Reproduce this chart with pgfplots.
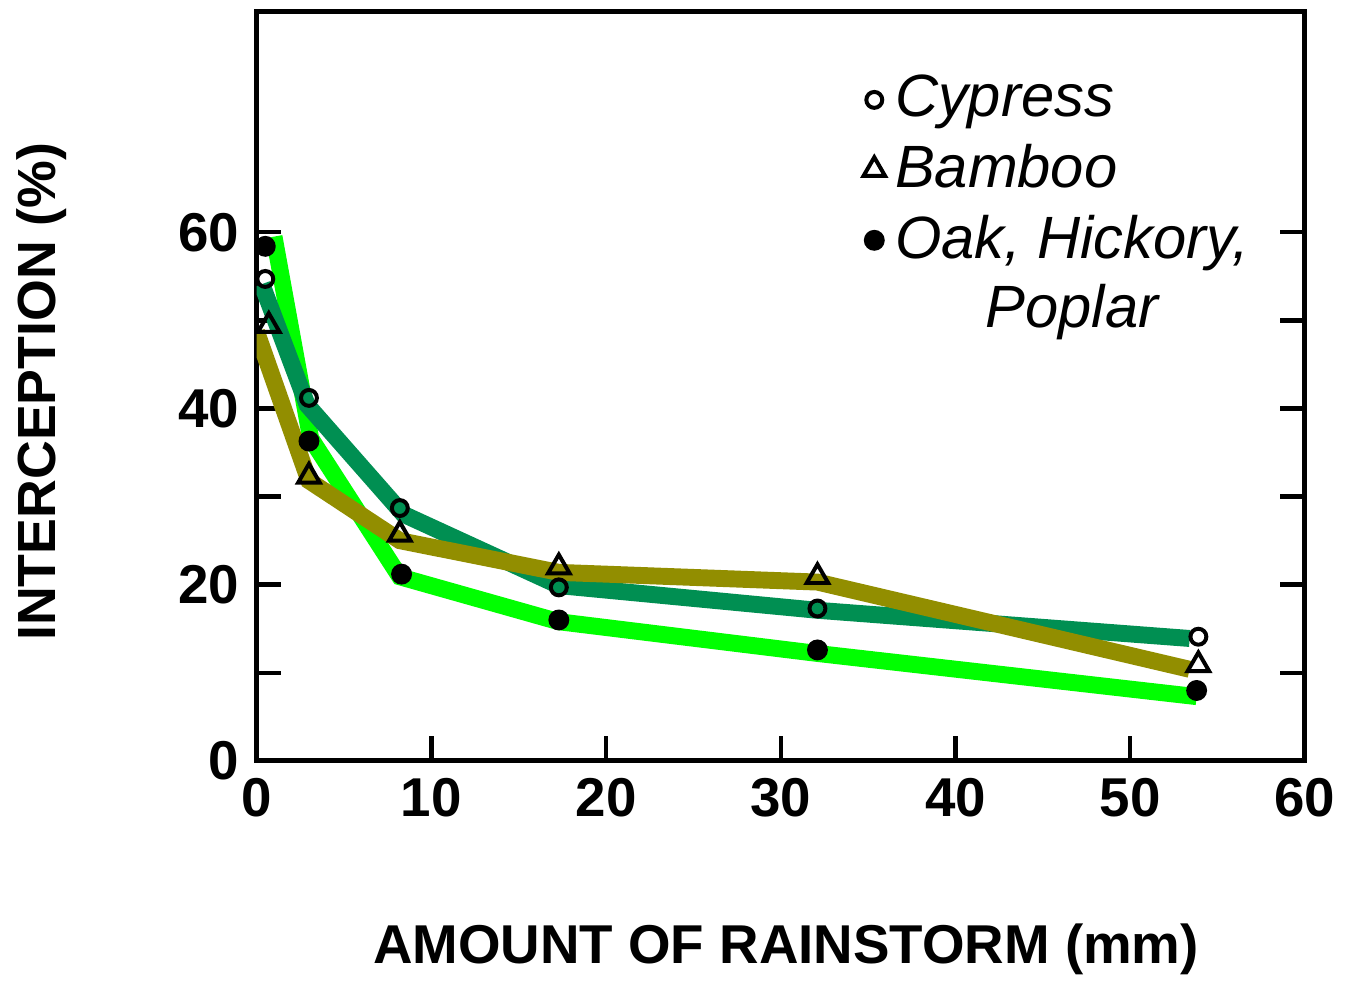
\documentclass[border=0pt]{standalone}
\usepackage{fontspec}
\setmainfont{Liberation Sans}
\usepackage{pgfplots}
\pgfplotsset{compat=1.18}

\definecolor{oakgreen}{RGB}{0,255,0}
\definecolor{cypgreen}{RGB}{0,143,82}
\definecolor{bamolive}{RGB}{146,142,0}

\pgfplotsset{
    raised legend mark/.style={
        legend image code/.code={\path (0.12cm,-7pt);
            \draw[##1] plot coordinates {(0.12cm,7pt)};}},
}

\begin{document}
\begin{tikzpicture}
\begin{axis}[
    name=main,
    scale only axis,
    width=210.8pt, height=150.6pt,
    xmin=0, xmax=60, ymin=0, ymax=85,
    xtick={0,10,...,60},
    ytick={0,10,...,60},
    yticklabels={0,,20,,40,,60},
    xtick pos=left,
    ytick pos=both,
    yticklabel pos=left,
    tick align=inside,
    major tick length=5pt,
    tick style={black, line width=0.9pt},
    axis line style={line width=1pt},
    /pgf/number format/assume math mode=true,
    ticklabel style={font=\fontsize{11}{13}\selectfont\bfseries},
    xlabel={AMOUNT OF RAINSTORM (mm)},
    ylabel={INTERCEPTION (\%)},
    xlabel style={font=\fontsize{11}{13}\selectfont\bfseries,
        at={(axis description cs:0.505,-0.252)}, anchor=center},
    ylabel style={font=\fontsize{10.8}{12}\selectfont\bfseries,
        at={(axis description cs:-0.205,0.493)}, anchor=center},
    legend style={draw=none, fill=none, inner sep=0pt,
        at={(axis description cs:0.578,0.93)}, anchor=north west,
        font=\fontsize{12}{14}\selectfont\itshape,
        cells={anchor=west, align=center}},
    legend image code/.code={\draw[#1] plot coordinates {(0.12cm,0cm)};},
]

% fitted curves (thick coloured bands)
\addplot[oakgreen, line width=3.4pt, forget plot] coordinates {
    (1.0,59.5) (3.1,36.6) (8.2,20.9) (17.3,15.8) (32.1,12.2) (53.8,7.3)};
\addplot[cypgreen, line width=3.4pt, forget plot] coordinates {
    (0.3,54.1) (2.9,40.4) (8.4,28.0) (17.3,19.9) (32.1,17.1) (53.4,13.9)};
\addplot[bamolive, line width=3.4pt, forget plot] coordinates {
    (0.0,48.7) (3.0,31.8) (8.2,25.0) (17.3,21.4) (32.1,20.3) (53.4,10.4)};

% observations
\addplot[only marks, mark=o, mark size=1.6pt, mark options={black, line width=0.8pt}]
    coordinates {(0.5,54.7) (3.0,41.2) (8.2,28.7) (17.3,19.7) (32.1,17.3) (53.9,14.1)};
\addlegendentry{Cypress}
\addplot[only marks, mark=triangle, mark size=2.5pt, mark options={black, line width=0.8pt}]
    coordinates {(0.7,49.4) (3.0,32.3) (8.2,25.7) (17.3,22.0) (32.1,20.9) (53.9,10.9)};
\addlegendentry{Bamboo}
\addplot[only marks, mark=*, mark size=1.9pt, mark options={black}, raised legend mark]
    coordinates {(0.5,58.4) (3.0,36.3) (8.3,21.2) (17.3,16.0) (32.1,12.6) (53.8,8.0)};
\addlegendentry{Oak, Hickory,\\Poplar}

\end{axis}
\path ([yshift=2.4pt]main.north);
\end{tikzpicture}
\end{document}
